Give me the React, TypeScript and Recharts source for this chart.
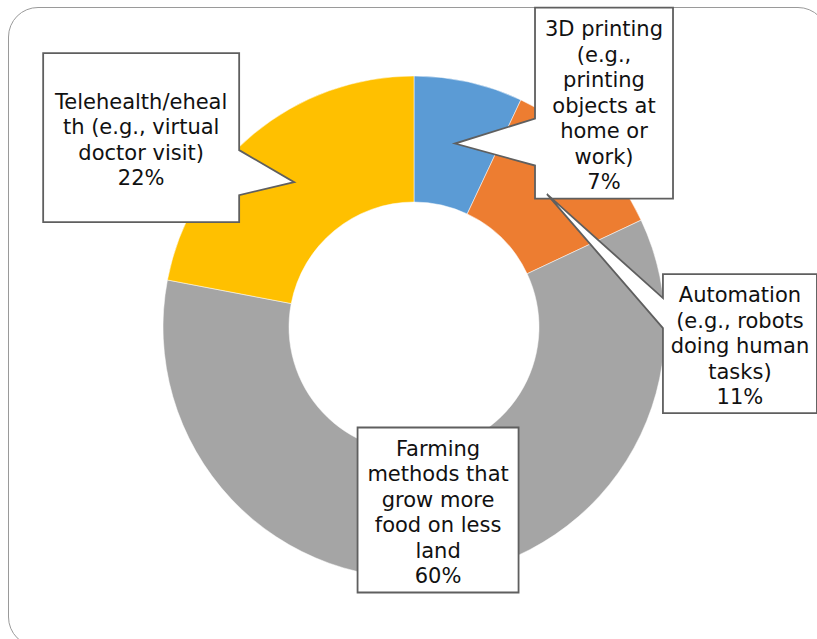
import React from 'react';
import { PieChart, Pie, Cell } from 'recharts';

const categories = [
  '3D printing (e.g., printing objects at home or work)',
  'Automation (e.g., robots doing human tasks)',
  'Farming methods that grow more food on less land',
  'Telehealth/ehealth (e.g., virtual doctor visit)',
];
const shares = [7, 11, 60, 22];
const labelLines = [
  ['3D printing', '(e.g.,', 'printing', 'objects at', 'home or', 'work)'],
  ['Automation', '(e.g., robots', 'doing human', 'tasks)'],
  ['Farming', 'methods that', 'grow more', 'food on less', 'land'],
  ['Telehealth/eheal', 'th (e.g., virtual', 'doctor visit)'],
];
const colors = ['#5B9BD5', '#ED7D31', '#A5A5A5', '#FFC000'];

const data = categories.map((name, i) => ({ name, value: shares[i], lines: labelLines[i] }));

// callout layout, relative to the slice's mid-point anchor
const calloutLayout: any[] = [
  { box: [80, -136, 218, 55], wedge: { side: 'left', a: -25, b: 22 } },
  { box: [116, 80, 270, 219], wedge: { side: 'left', a: 104, b: 134 } },
  { box: [-80, -86, 81, 79], wedge: null },
  { box: [-251, -129, -55, 40], wedge: { side: 'right', a: -32, b: 13 } },
];

const RAD = Math.PI / 180;
const FONT = 21;
const LH = 25.5;

const renderCallout = (props: any) => {
  const { cx, cy, midAngle, innerRadius, outerRadius, index, value } = props;
  const r = (innerRadius + outerRadius) / 2;
  const tx = cx + r * Math.cos(-midAngle * RAD);
  const ty = cy + r * Math.sin(-midAngle * RAD);
  const lay = calloutLayout[index];
  const x0 = tx + lay.box[0];
  const y0 = ty + lay.box[1];
  const x1 = tx + lay.box[2];
  const y1 = ty + lay.box[3];
  let d: string;
  if (lay.wedge && lay.wedge.side === 'left') {
    d = `M${x0},${y0} L${x1},${y0} L${x1},${y1} L${x0},${y1} L${x0},${ty + lay.wedge.b} L${tx},${ty} L${x0},${ty + lay.wedge.a} Z`;
  } else if (lay.wedge && lay.wedge.side === 'right') {
    d = `M${x0},${y0} L${x1},${y0} L${x1},${ty + lay.wedge.a} L${tx},${ty} L${x1},${ty + lay.wedge.b} L${x1},${y1} L${x0},${y1} Z`;
  } else {
    d = `M${x0},${y0} L${x1},${y0} L${x1},${y1} L${x0},${y1} Z`;
  }
  const lines: string[] = [...data[index].lines, `${value}%`];
  const midX = (x0 + x1) / 2;
  const midY = (y0 + y1) / 2 + 2;
  const firstY = midY - ((lines.length - 1) / 2) * LH + FONT * 0.36;
  return (
    <g key={`callout-${index}`}>
      <path d={d} fill="#ffffff" stroke="#5f5f5f" strokeWidth={1.8} strokeLinejoin="miter" />
      <text
        x={midX}
        y={firstY}
        textAnchor="middle"
        fontFamily="'DejaVu Sans', Verdana, sans-serif"
        fontSize={FONT}
        fill="#111111"
      >
        {lines.map((ln, i) => (
          <tspan key={i} x={midX} y={firstY + i * LH}>
            {ln}
          </tspan>
        ))}
      </text>
    </g>
  );
};

export default function App() {
  return (
    <div
      style={{
        position: 'absolute',
        left: 0,
        top: 0,
        width: 817,
        height: 639,
        overflow: 'hidden',
        background: '#ffffff',
      }}
    >
      <div
        style={{
          position: 'absolute',
          left: 8,
          top: 7,
          width: 820,
          height: 640,
          border: '1.5px solid #9a9a9a',
          borderRadius: 30,
          boxSizing: 'border-box',
        }}
      />
      <div style={{ position: 'absolute', left: 0, top: 0 }}>
        <PieChart width={817} height={639} margin={{ top: 0, right: 0, bottom: 0, left: 0 }}>
          <Pie
            data={data}
            dataKey="value"
            nameKey="name"
            cx={414}
            cy={327}
            innerRadius={125}
            outerRadius={251}
            startAngle={90}
            endAngle={-270}
            stroke="#ffffff"
            strokeWidth={0.5}
            label={renderCallout}
            labelLine={false}
            isAnimationActive={false}
          >
            {data.map((d, i) => (
              <Cell key={d.name} fill={colors[i]} />
            ))}
          </Pie>
        </PieChart>
      </div>
    </div>
  );
}
